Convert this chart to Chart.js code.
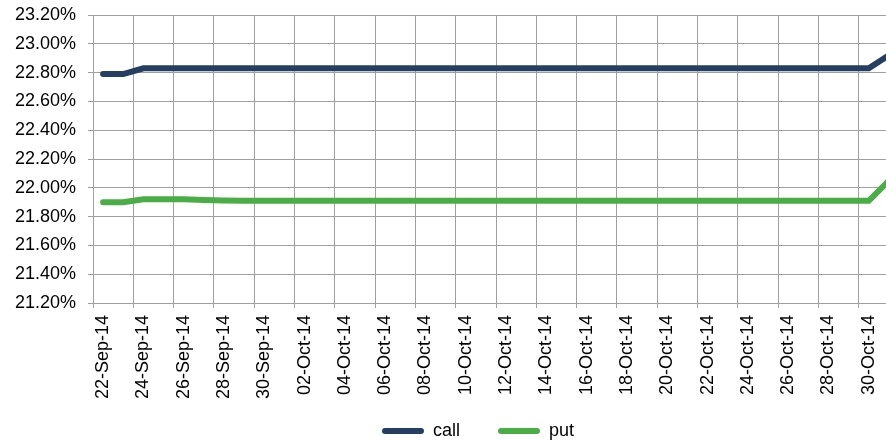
<!DOCTYPE html>
<html>
<head>
<meta charset="utf-8">
<script src="https://cdn.jsdelivr.net/npm/chart.js@4"></script>
<style>
  html, body { margin: 0; padding: 0; overflow: hidden; background: #ffffff; }
  #wrap { position: relative; width: 899px; height: 441px; }
</style>
</head>
<body>
<div id="wrap"><canvas id="c"></canvas></div>
<script>
const categories = [
  '22-Sep-14','23-Sep-14','24-Sep-14','25-Sep-14','26-Sep-14','27-Sep-14','28-Sep-14','29-Sep-14','30-Sep-14',
  '01-Oct-14','02-Oct-14','03-Oct-14','04-Oct-14','05-Oct-14','06-Oct-14','07-Oct-14','08-Oct-14','09-Oct-14','10-Oct-14',
  '11-Oct-14','12-Oct-14','13-Oct-14','14-Oct-14','15-Oct-14','16-Oct-14','17-Oct-14','18-Oct-14','19-Oct-14','20-Oct-14',
  '21-Oct-14','22-Oct-14','23-Oct-14','24-Oct-14','25-Oct-14','26-Oct-14','27-Oct-14','28-Oct-14','29-Oct-14','30-Oct-14',
  '31-Oct-14'
];
const callValues = [
  22.79, 22.79, 22.83, 22.83, 22.83, 22.83, 22.83, 22.83, 22.83,
  22.83, 22.83, 22.83, 22.83, 22.83, 22.83, 22.83, 22.83, 22.83, 22.83,
  22.83, 22.83, 22.83, 22.83, 22.83, 22.83, 22.83, 22.83, 22.83, 22.83,
  22.83, 22.83, 22.83, 22.83, 22.83, 22.83, 22.83, 22.83, 22.83, 22.83,
  22.92
];
const putValues = [
  21.90, 21.90, 21.92, 21.92, 21.92, 21.915, 21.912, 21.91, 21.91,
  21.91, 21.91, 21.91, 21.91, 21.91, 21.91, 21.91, 21.91, 21.91, 21.91,
  21.91, 21.91, 21.91, 21.91, 21.91, 21.91, 21.91, 21.91, 21.91, 21.91,
  21.91, 21.91, 21.91, 21.91, 21.91, 21.91, 21.91, 21.91, 21.91, 21.91,
  22.05
];
const seriesNames = ['call', 'put'];
const yMin = 21.2, yMax = 23.2, yStep = 0.2;

const GRID = '#a0a0a0';
const FONT = { family: "'Liberation Sans', Arial, sans-serif", size: 18 };
const LEGEND_PAD = 38;

const legendPlacer = {
  id: 'legendPlacer',
  afterLayout(chart) {
    const lg = chart.legend;
    if (!lg) return;
    lg.left = 57;
    lg.top = 431 - LEGEND_PAD - FONT.size / 2;
    lg.bottom = chart.height;
  }
};

new Chart(document.getElementById('c'), {
  type: 'line',
  data: {
    labels: categories,
    datasets: [
      { label: seriesNames[0], data: callValues, borderColor: '#243f62', backgroundColor: '#243f62',
        borderWidth: 6, pointRadius: 0, borderCapStyle: 'round', tension: 0 },
      { label: seriesNames[1], data: putValues, borderColor: '#4bad46', backgroundColor: '#4bad46',
        borderWidth: 6, pointRadius: 0, borderCapStyle: 'round', tension: 0 }
    ]
  },
  plugins: [legendPlacer],
  options: {
    responsive: true,
    maintainAspectRatio: false,
    animation: false,
    events: [],
    layout: { padding: { top: 15, left: 0, right: 0, bottom: 8 } },
    plugins: {
      tooltip: { enabled: false },
      legend: {
        position: 'bottom',
        maxHeight: 30,
        labels: {
          color: '#000000',
          font: FONT,
          boxWidth: 42,
          boxHeight: 6,
          padding: LEGEND_PAD,
          useBorderRadius: true,
          borderRadius: 3,
          generateLabels: (chart) => Chart.defaults.plugins.legend.labels.generateLabels(chart)
            .map((item) => Object.assign(item, { lineWidth: 0 }))
        }
      }
    },
    scales: {
      x: {
        type: 'category',
        offset: true,
        grid: {
          offset: true,
          color: (ctx) => (ctx.index % 2 === 0 ? GRID : 'rgba(0,0,0,0)'),
          lineWidth: 1,
          tickLength: 5
        },
        border: { color: GRID },
        ticks: {
          autoSkip: false,
          maxRotation: 90,
          minRotation: 90,
          padding: 7,
          color: '#000000',
          font: FONT,
          callback: function (v, i) { return i % 2 === 0 ? categories[i] : ''; }
        },
        afterFit: (s) => { s.height = 100; s.paddingLeft = 0; s.paddingRight = 0; }
      },
      y: {
        min: yMin,
        max: yMax,
        grid: { color: GRID, lineWidth: 1, tickLength: 5 },
        border: { color: GRID },
        ticks: {
          stepSize: yStep,
          padding: 12,
          color: '#000000',
          font: FONT,
          callback: (v) => v.toFixed(2) + '%'
        },
        afterFit: (s) => { s.width = 93; s.paddingTop = 0; s.paddingBottom = 0; }
      }
    }
  }
});
</script>
</body>
</html>
